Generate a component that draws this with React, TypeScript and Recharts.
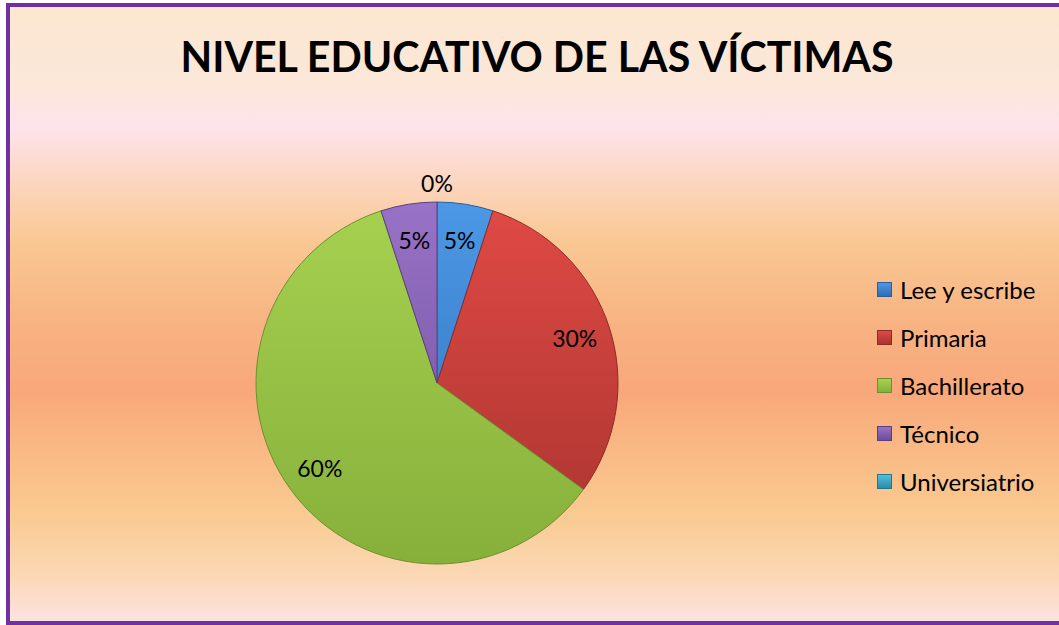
import React from 'react';
import { PieChart, Pie, Cell } from 'recharts';

const categories = ['Lee y escribe', 'Primaria', 'Bachillerato', 'Técnico', 'Universiatrio'];
const percents = [5, 30, 60, 5, 0];
const topColors = ['#4C98E6', '#E04A45', '#A6D150', '#9872C6', '#4DC2DF'];
const bottomColors = ['#2F6DB5', '#A8332F', '#86B03A', '#6C4C98', '#2C8CA6'];
const edgeColors = ['#2A5E9C', '#8E2B28', '#6E9130', '#5A3F80', '#24768C'];

const TITLE = 'NIVEL EDUCATIVO DE LAS VÍCTIMAS';
const FONT = 'Lato, "Open Sans", sans-serif';

const data = categories.map((name, i) => ({ name, value: percents[i] }));

const CX = 437;
const CY = 383;
const R = 181;
const RADIAN = Math.PI / 180;

function renderLabel(props: any) {
  const { cx, cy, midAngle, outerRadius, value } = props;
  const r = value === 0 ? outerRadius + 19 : outerRadius * 0.8;
  const x = cx + r * Math.cos(-midAngle * RADIAN);
  const y = cy + r * Math.sin(-midAngle * RADIAN);
  return (
    <text x={x} y={y} textAnchor="middle" dominantBaseline="central" fontFamily={FONT} fontSize={23} fill="#000">
      {value}%
    </text>
  );
}

function LegendBox() {
  return (
    <div style={{ fontFamily: FONT, fontSize: 24, color: '#000' }}>
      {categories.map((c, i) => (
        <div key={c} style={{ display: 'flex', alignItems: 'center', height: 48.2 }}>
          <span
            style={{
              width: 13,
              height: 13,
              marginRight: 8,
              background: `linear-gradient(180deg, ${topColors[i]}, ${bottomColors[i]})`,
              border: `1px solid ${edgeColors[i]}`,
            }}
          />
          {c}
        </div>
      ))}
    </div>
  );
}

export default function App() {
  return (
    <div style={{ position: 'absolute', left: 0, top: 0, width: 1059, height: 625, background: '#fff', overflow: 'hidden' }}>
      <div
        style={{
          position: 'absolute',
          left: 6,
          top: 3,
          width: 1080,
          height: 622,
          boxSizing: 'border-box',
          border: '4px solid #7030A0',
          background:
            'linear-gradient(180deg, #FBE8CF 0px, #FCE7DA 80px, #FDE4EC 120px, #FCD9CB 160px, #F9C892 235px, #F8B282 320px, #F8A87A 385px, #F9BB86 450px, #F9CB92 510px, #FBD8B6 570px, #FDE4E6 620px)',
        }}
      />
      <svg width={1059} height={625} style={{ position: 'absolute', left: 0, top: 0 }}>
        <text
          x={537}
          y={56}
          textAnchor="middle"
          dominantBaseline="central"
          fontFamily={FONT}
          fontWeight={700}
          fontSize={42}
          textLength={713}
          lengthAdjust="spacingAndGlyphs"
          fill="#000"
        >
          {TITLE}
        </text>
      </svg>
      <div style={{ position: 'absolute', left: 0, top: 0 }}>
        <PieChart width={1059} height={625} margin={{ top: 0, right: 0, bottom: 0, left: 0 }}>
          <defs>
            {topColors.map((c, i) => (
              <linearGradient key={i} id={`slice${i}`} gradientUnits="userSpaceOnUse" x1={0} y1={CY - R} x2={0} y2={CY + R}>
                <stop offset="0%" stopColor={c} />
                <stop offset="100%" stopColor={bottomColors[i]} />
              </linearGradient>
            ))}
          </defs>
          <Pie
            data={data}
            dataKey="value"
            nameKey="name"
            cx={CX}
            cy={CY}
            outerRadius={R}
            startAngle={90}
            endAngle={-270}
            label={renderLabel}
            labelLine={false}
            isAnimationActive={false}
          >
            {data.map((d, i) => (
              <Cell key={d.name} fill={`url(#slice${i})`} stroke={edgeColors[i]} strokeWidth={1} />
            ))}
          </Pie>
        </PieChart>
      </div>
      <div style={{ position: 'absolute', left: 877, top: 265 }}>
        <LegendBox />
      </div>
    </div>
  );
}
